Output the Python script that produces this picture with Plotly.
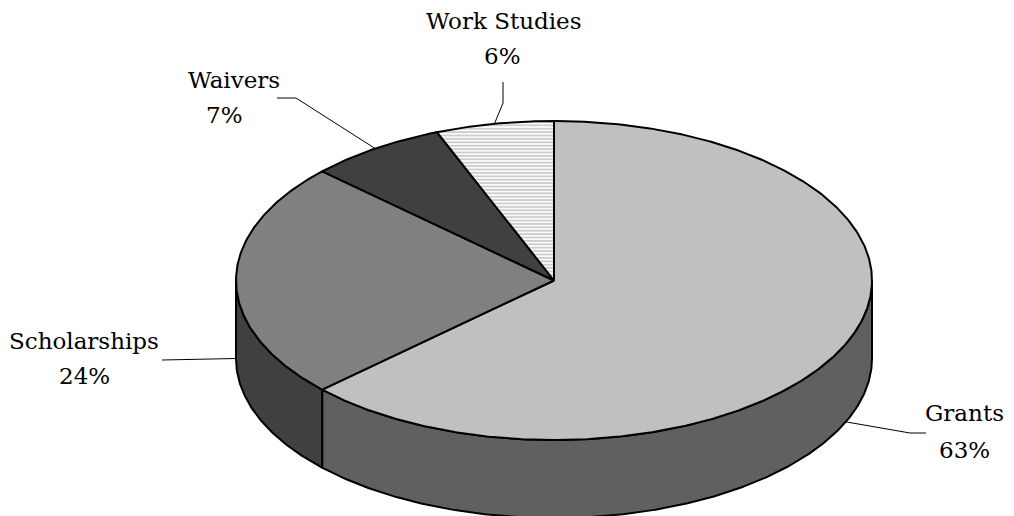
import numpy as np
import plotly.graph_objects as go

# ---- data ----
categories = ["Grants", "Scholarships", "Waivers", "Work Studies"]
values = [63, 24, 7, 6]
pct_labels = ["63%", "24%", "7%", "6%"]

# ---- styles ----
top_colors = ["#c0c0c0", "#808080", "#404040", "#ffffff"]
side_colors = ["#606060", "#404040", "#202020", "#a0a0a0"]
patterned = [False, False, False, True]

# ---- geometry of the 3-D pie (page pixel space) ----
CX, CY, RX, RY, DEPTH = 554.0, 280.5, 318.0, 159.5, 78.0
W, H = 1014, 516
OFF = 8  # default page body margin
FONT = dict(family="DejaVu Serif", size=23, color="black")

# label layout (text centres and leader elbow points)
label_layout = {
    "Grants": dict(name=(964, 413), pct=(964, 450), leader=[(926, 433), (910, 433)]),
    "Scholarships": dict(name=(84, 341), pct=(84, 376), leader=[(162, 360)]),
    "Waivers": dict(name=(234, 80), pct=(224, 115), leader=[(277, 98), (296, 98)]),
    "Work Studies": dict(name=(503, 21), pct=(502, 56), leader=[(503, 82), (503, 103)]),
}


def pt(theta_deg, dy=0.0):
    t = np.radians(theta_deg)
    return CX + RX * np.sin(t), CY - RY * np.cos(t) + dy


def arc(a0, a1, dy=0.0, n=None):
    if n is None:
        n = max(int(abs(a1 - a0) * 2), 4)
    th = np.linspace(a0, a1, n)
    xs, ys = pt(th, dy)
    return list(xs), list(ys)


total = float(sum(values))
bounds = np.concatenate([[0.0], np.cumsum(values) / total * 360.0])

fig = go.Figure()

# side faces (visible front part: 90..270 deg)
for i, cat in enumerate(categories):
    a0, a1 = bounds[i], bounds[i + 1]
    s0, s1 = max(a0, 90.0), min(a1, 270.0)
    if s1 <= s0:
        continue
    xt, yt = arc(s0, s1)
    xb, yb = arc(s1, s0, DEPTH)
    xs = xt + xb + [xt[0]]
    ys = yt + yb + [yt[0]]
    fig.add_trace(go.Scatter(x=xs, y=ys, mode="lines", fill="toself",
                             fillcolor=side_colors[i],
                             line=dict(color="black", width=2),
                             hoverinfo="skip", showlegend=False))

# top faces
for i, cat in enumerate(categories):
    a0, a1 = bounds[i], bounds[i + 1]
    xa, ya = arc(a0, a1)
    xs = [CX] + xa + [CX]
    ys = [CY] + ya + [CY]
    kw = {}
    if patterned[i]:
        kw["fillpattern"] = dict(shape="-", bgcolor="white", fgcolor="#9a9a9a",
                                 size=3.4, solidity=0.55)
    fig.add_trace(go.Scatter(x=xs, y=ys, mode="lines", fill="toself",
                             fillcolor=top_colors[i],
                             line=dict(color="black", width=2),
                             hoverinfo="skip", showlegend=False, **kw))

# labels and leader lines
for i, cat in enumerate(categories):
    a0, a1 = bounds[i], bounds[i + 1]
    mid = (a0 + a1) / 2.0
    dy = DEPTH if 90.0 < mid <= 270.0 else 0.0
    ex, ey = pt(mid, dy)
    lay = label_layout[cat]
    lx = [p[0] for p in lay["leader"]] + [float(ex)]
    ly = [p[1] for p in lay["leader"]] + [float(ey)]
    fig.add_trace(go.Scatter(x=lx, y=ly, mode="lines",
                             line=dict(color="black", width=1),
                             hoverinfo="skip", showlegend=False))
    fig.add_annotation(x=lay["name"][0], y=lay["name"][1], text=cat,
                       showarrow=False, xanchor="center", yanchor="middle",
                       font=FONT, xref="x", yref="y")
    fig.add_annotation(x=lay["pct"][0], y=lay["pct"][1], text=pct_labels[i],
                       showarrow=False, xanchor="center", yanchor="middle",
                       font=FONT, xref="x", yref="y")

fig.update_layout(
    width=W - OFF, height=H - OFF,
    margin=dict(l=0, r=0, t=0, b=0),
    paper_bgcolor="white", plot_bgcolor="white",
    showlegend=False,
    xaxis=dict(range=[OFF, W], visible=False, fixedrange=True),
    yaxis=dict(range=[H, OFF], visible=False, fixedrange=True),
)

fig.write_html("out.html")
